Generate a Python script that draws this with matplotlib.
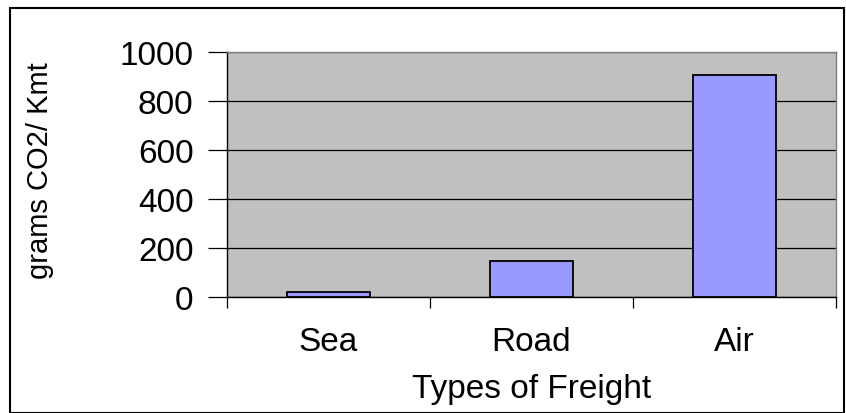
import matplotlib.pyplot as plt
from matplotlib.patches import Rectangle
import numpy as np

# freight types and emissions (grams CO2 per km-tonne)
categories = ['Sea', 'Road', 'Air']
emissions = [20, 147, 905]
y_ticks = [0, 200, 400, 600, 800, 1000]

plt.rcParams['font.family'] = ['Liberation Sans', 'DejaVu Sans']

fig = plt.figure(figsize=(8.46, 4.14), dpi=100)
ax = fig.add_axes([0.268, 0.280, 0.720, 0.592])

x = np.arange(len(categories))
ax.bar(x, emissions, width=0.41, color='#9999FF', edgecolor='black', linewidth=1.3, zorder=3)

ax.set_facecolor('#C0C0C0')
ax.set_xlim(-0.5, len(categories) - 0.5)
ax.set_ylim(0, 1000)
ax.set_yticks(y_ticks)
ax.set_yticklabels([str(v) for v in y_ticks], fontsize=24)
ax.yaxis.grid(True, color='black', linewidth=0.9, zorder=1)
ax.set_axisbelow(True)

# category boundary ticks on x axis, labels centered under bars
ax.set_xticks(np.arange(len(categories) + 1) - 0.5)
ax.set_xticklabels([])
ax.set_xticks(x, minor=True)
ax.set_xticklabels(categories, minor=True, fontsize=24)
ax.tick_params(axis='x', which='minor', length=0, pad=21)
ax.tick_params(axis='x', which='major', length=8, width=0.9, direction='out')
ax.tick_params(axis='y', length=14, width=0.9, direction='out', pad=10)

ax.spines['left'].set_color('black')
ax.spines['bottom'].set_color('black')
ax.spines['top'].set_color('#808080')
ax.spines['right'].set_color('#808080')
for s in ax.spines.values():
    s.set_linewidth(1.0)

ax.set_xlabel('Types of Freight', fontsize=24, labelpad=11)
fig.text(0.047, 0.589, 'grams CO2/ Kmt', rotation=90, fontsize=21,
         ha='center', va='center')

# outer chart border
fig.patches.append(Rectangle((0.012, 0.0), 0.986, 0.978, transform=fig.transFigure,
                             fill=False, edgecolor='black', linewidth=1.5))

fig.savefig('out.png', dpi=100)
